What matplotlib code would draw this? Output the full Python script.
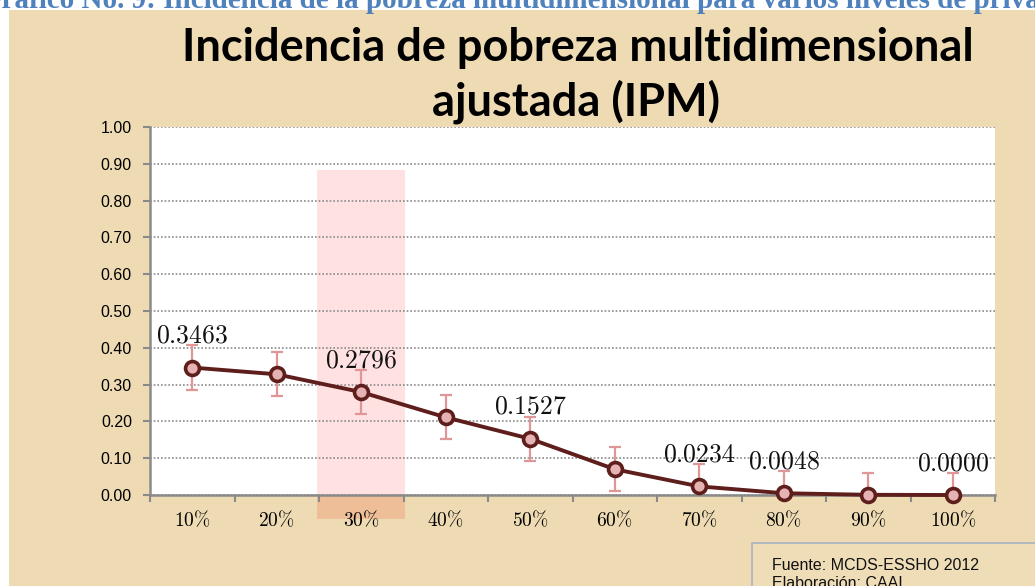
import matplotlib
matplotlib.use("Agg")
import matplotlib.pyplot as plt
from matplotlib.patches import Rectangle
import matplotlib.ticker as mticker

# ---- data ----
categories = ["10%", "20%", "30%", "40%", "50%", "60%", "70%", "80%", "90%", "100%"]
ipm_values = [0.3463, 0.328, 0.2796, 0.211, 0.1527, 0.070, 0.0234, 0.0048, 0.0005, 0.0000]
error_margin = [0.06, 0.06, 0.06, 0.06, 0.06, 0.06, 0.06, 0.06, 0.06, 0.06]
label_text = ["0.3463", None, "0.2796", None, "0.1527", None, "0.0234", "0.0048", None, "0.0000"]
y_ticks = [0.0, 0.1, 0.2, 0.3, 0.4, 0.5, 0.6, 0.7, 0.8, 0.9, 1.0]
highlight_category = "30%"

plt.rcParams["mathtext.fontset"] = "cm"

W, H = 1035, 586
fig = plt.figure(figsize=(W / 100, H / 100), dpi=100)
fig.patch.set_facecolor("white")

def fx(px):
    return px / W

def fy(py):
    return 1 - py / H

# parchment background
fig.add_artist(Rectangle((fx(9), 0), 1 - fx(9), fy(10), transform=fig.transFigure,
                         facecolor="#EEDBB4", edgecolor="none", zorder=-10))

# heading (partially cut off)
fig.text(fx(-21), fy(8), "Gráfico No. 9: Incidencia de la pobreza multidimensional para varios niveles de privación",
         family="Liberation Serif", fontweight="bold", fontsize=21, color="#4F81BD",
         ha="left", va="baseline", zorder=-5)

# axes
ax = fig.add_axes([fx(150), fy(495), fx(995) - fx(150), fy(127) - fy(495)])
ax.set_zorder(1)
ax.set_facecolor("white")
x = list(range(len(categories)))
ax.set_xlim(-0.5, len(categories) - 0.5)
ax.set_ylim(0, 1.0)

# highlight band
hi = categories.index(highlight_category)
ax.add_patch(Rectangle((hi - 0.524, 0), 1.042, 0.883, facecolor="#FFE1E1", edgecolor="none", zorder=0.1))
ax.add_patch(Rectangle((hi - 0.524, -0.065), 1.042, 0.065, facecolor="#EEBE98", edgecolor="none",
                       zorder=0.1, clip_on=False))

ax.set_axisbelow(True)
ax.yaxis.grid(True, color="#8A8A8A", linestyle=(0, (1, 1.2)), linewidth=1.2)
ax.set_yticks(y_ticks)
ax.yaxis.set_major_formatter(mticker.FormatStrFormatter("%.2f"))
for lbl in ax.get_yticklabels():
    lbl.set_family("Liberation Sans")
ax.tick_params(axis="y", labelsize=11.5, length=5, width=1.5, color="#8A8A8A", pad=8)

# x ticks at boundaries, labels at centers
ax.set_xticks([i - 0.5 for i in range(len(categories) + 1)])
ax.set_xticklabels([])
ax.set_xticks(x, minor=True)
ax.set_xticklabels([r"$%s\%%$" % c[:-1] for c in categories], minor=True)
ax.tick_params(axis="x", which="major", length=5, width=1.5, color="#8A8A8A")
ax.tick_params(axis="x", which="minor", length=0, labelsize=14, pad=10.5)

for s in ["top", "right"]:
    ax.spines[s].set_visible(False)
for s in ["left", "bottom"]:
    ax.spines[s].set_color("#8A8A8A")
    ax.spines[s].set_linewidth(1.8)

# error bars
ax.errorbar(x, ipm_values, yerr=error_margin, fmt="none", ecolor="#E09696", elinewidth=1.6,
            capsize=4.3, capthick=1.6, zorder=2)
# line
ax.plot(x, ipm_values, color="#5E1E1C", linewidth=2.8, marker="o", markersize=10,
        markerfacecolor="#E5B3B3", markeredgecolor="#5E1E1C", markeredgewidth=2.6, zorder=3,
        clip_on=False)

for xi, v, t in zip(x, ipm_values, label_text):
    if t:
        ax.annotate(r"$%s$" % t, (xi, v), xytext=(0, 23), textcoords="offset points",
                    ha="center", va="center", fontsize=18.5, color="#111111", zorder=4,
                    annotation_clip=False)

# title
fig.text(fx(578), fy(61), "Incidencia de pobreza multidimensional", family="Lato", fontweight="bold",
         fontsize=32.5, ha="center", va="baseline", color="black")
fig.text(fx(576), fy(115), "ajustada (IPM)", family="Lato", fontweight="bold",
         fontsize=32.5, ha="center", va="baseline", color="black")

# source box
fig.add_artist(Rectangle((fx(752), fy(600)), fx(1040) - fx(752), fy(543) - fy(600),
                         transform=fig.transFigure, facecolor="#EFDDB8", edgecolor="#A8B3C1",
                         linewidth=1.2, zorder=-4))
fig.text(fx(772), fy(570), "Fuente: MCDS-ESSHO 2012", family="Liberation Sans", fontsize=11.5,
         ha="left", va="baseline", color="#111111")
fig.text(fx(772), fy(588), "Elaboración: CAAI", family="Liberation Sans", fontsize=11.5,
         ha="left", va="baseline", color="#111111")

fig.savefig("out.png", dpi=100)
